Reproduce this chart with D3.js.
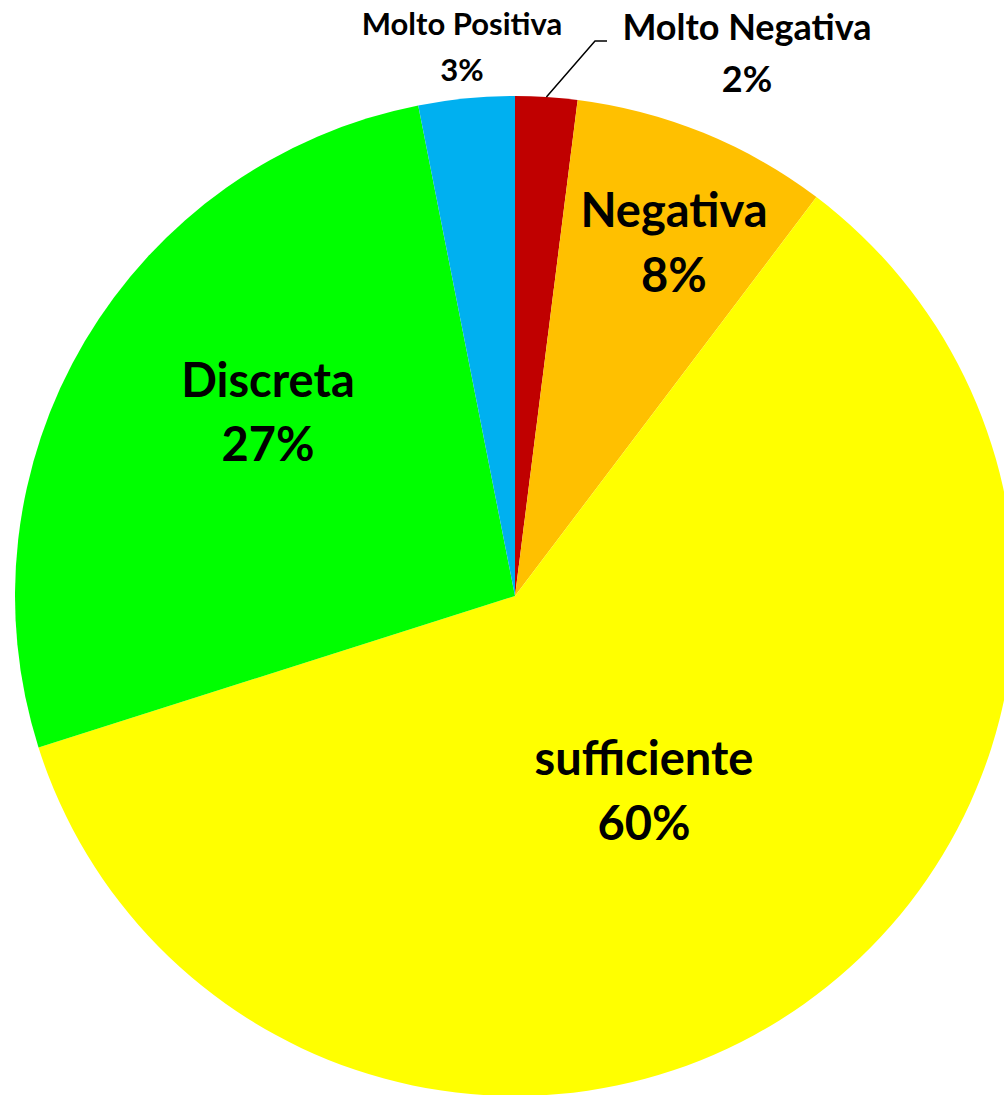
<!DOCTYPE html>
<html>
<head>
<meta charset="utf-8">
<script src="https://cdn.jsdelivr.net/npm/d3@7"></script>
<style>
  body { margin: 0; background: #fff; }
  svg { display: block; }
</style>
</head>
<body>
<svg></svg>
<script>
// slice order: clockwise from 12 o'clock
let categories = ["Molto Negativa", "Negativa", "sufficiente", "Discreta", "Molto Positiva"],
    values     = [2.0, 8.3, 59.8, 26.8, 3.1],
    pctLabels  = ["2%", "8%", "60%", "27%", "3%"],
    colors     = ["#C00000", "#FFC000", "#FFFF00", "#00FF00", "#00B0F0"];

let width = 1004, height = 1095,
    cx = 515, cy = 596, radius = 500,
    font = "Lato, 'Open Sans', sans-serif";

let svg = d3.select("svg")
            .attr("width", width)
            .attr("height", height);

let pie = d3.pie().sort(null).value(d => d.value),
    arc = d3.arc().innerRadius(0).outerRadius(radius);

let data = categories.map((c, i) => ({name: c, value: values[i], pct: pctLabels[i], color: colors[i]}));

let g = svg.append("g").attr("transform", `translate(${cx},${cy})`);

g.selectAll("path")
  .data(pie(data))
  .enter()
  .append("path")
  .attr("d", arc)
  .attr("fill", d => d.data.color);

// label placement (Excel "best fit"), baseline of first line relative to pie center
let labelLayout = {
  "Molto Negativa": {dx: 232, dy: -556, size: 36, gap: 52},
  "Negativa":       {dx: 159, dy: -369, size: 47, gap: 65},
  "sufficiente":    {dx: 129, dy: 179,  size: 47, gap: 65},
  "Discreta":       {dx: -247, dy: -199, size: 47, gap: 64},
  "Molto Positiva": {dx: -53, dy: -561, size: 31, gap: 46}
};

let labels = g.selectAll("g.lbl")
  .data(data)
  .enter()
  .append("g")
  .attr("class", "lbl")
  .attr("transform", d => `translate(${labelLayout[d.name].dx},${labelLayout[d.name].dy})`);

labels.append("text")
  .attr("text-anchor", "middle")
  .attr("font-family", font)
  .attr("font-weight", "bold")
  .attr("font-size", d => labelLayout[d.name].size + "px")
  .attr("fill", "#000")
  .text(d => d.name);

labels.append("text")
  .attr("text-anchor", "middle")
  .attr("y", d => labelLayout[d.name].gap)
  .attr("font-family", font)
  .attr("font-weight", "bold")
  .attr("font-size", d => labelLayout[d.name].size + "px")
  .attr("fill", "#000")
  .text(d => d.pct);

// leader line for the small red slice
let red = pie(data)[0],
    mid = (red.startAngle + red.endAngle) / 2,
    p0 = [Math.sin(mid) * radius, -Math.cos(mid) * radius];

g.append("polyline")
  .attr("points", [p0, [80, -555], [92, -555]].map(p => p.join(",")).join(" "))
  .attr("fill", "none")
  .attr("stroke", "#000")
  .attr("stroke-width", 1.5);
</script>
</body>
</html>
